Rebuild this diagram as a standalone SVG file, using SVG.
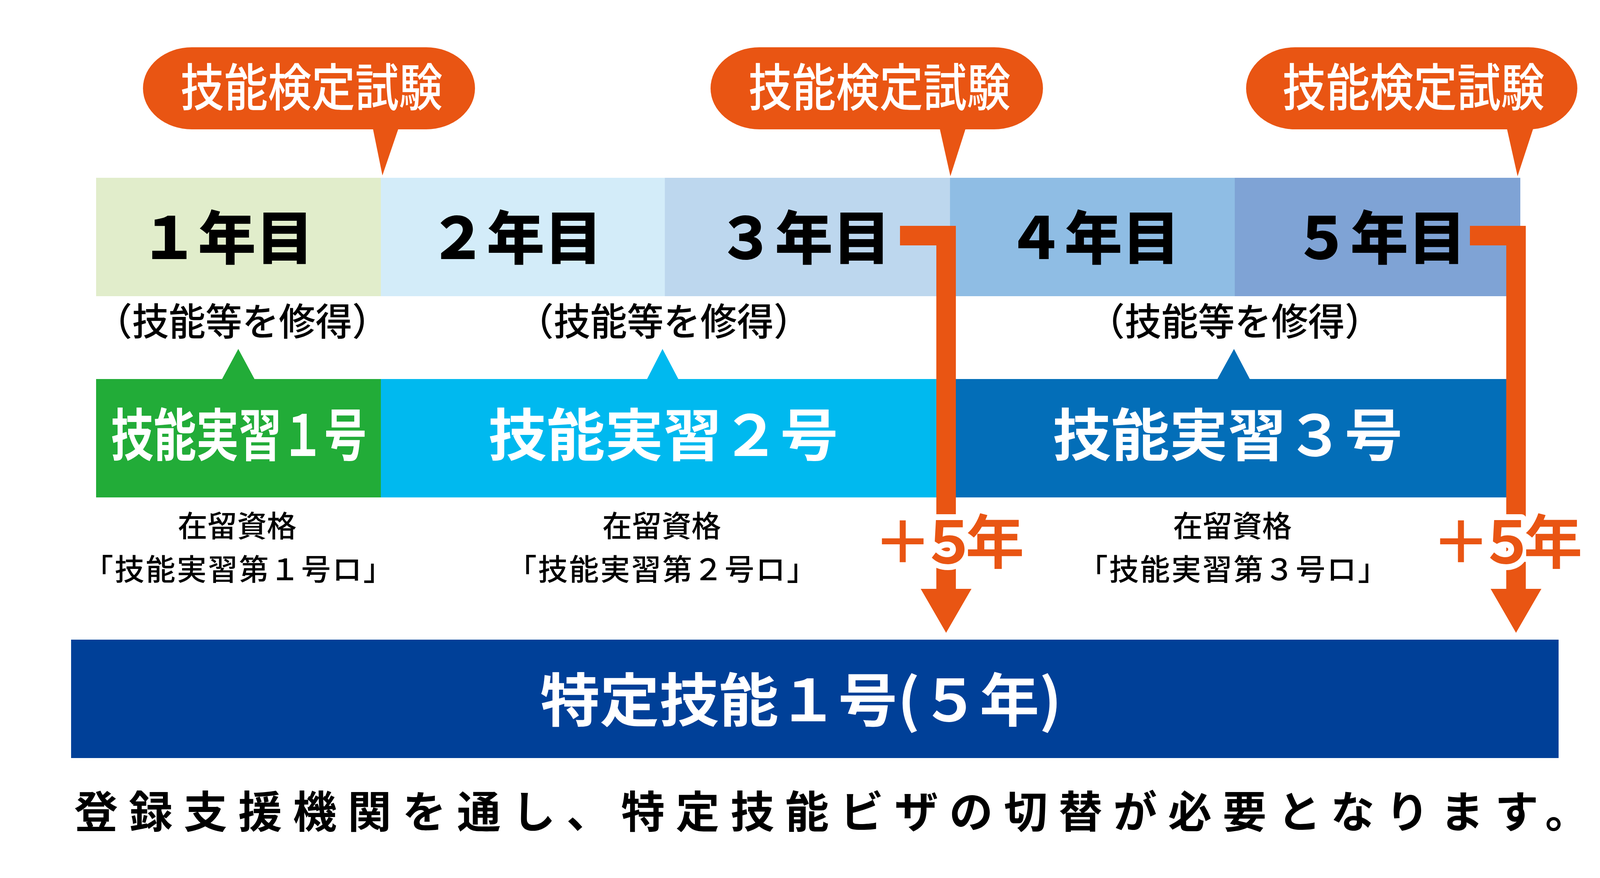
<svg xmlns="http://www.w3.org/2000/svg" width="4253" height="2247" viewBox="0 0 4253 2247">
<style>
text{font-family:"Noto Sans CJK JP","Noto Sans CJK SC",sans-serif}
.orange{fill:#E95513}
.bub{fill:#FFFFFF;font-size:130px;font-weight:500}
.year{fill:#000000;font-size:148px;font-weight:900}
.gain{fill:#000000;font-size:97px;font-weight:500}
.skill{fill:#FFFFFF;font-size:145px;font-weight:700}
.status{fill:#000000;font-size:76px;font-weight:500;text-anchor:middle}
.plus{fill:#E95513;font-size:150px;font-weight:700;stroke:#FFFFFF;stroke-width:30px;stroke-linejoin:round;paint-order:stroke;letter-spacing:-32px}
.conn{fill:none;stroke:#E95513;stroke-width:50;stroke-linejoin:miter;stroke-linecap:butt}
</style>
<defs>
<marker id="ah" markerUnits="userSpaceOnUse" markerWidth="130" markerHeight="130" refX="0" refY="63" orient="auto" viewBox="0 0 110 126" overflow="visible">
<path d="M0,0 L109,63 L0,126 Z" fill="#E95513"/>
</marker>
</defs>
<rect width="4253" height="2247" fill="#FFFFFF"/>

<g id="exam1">
<rect x="366" y="121" width="850" height="210" rx="125" ry="105" class="orange"/>
<polygon points="954,326 1021,326 979,449" class="orange"/>
<text x="462" y="271" class="bub" textLength="671" lengthAdjust="spacingAndGlyphs">技能検定試験</text>
</g>
<g id="exam2">
<rect x="1819" y="121" width="851" height="210" rx="125" ry="105" class="orange"/>
<polygon points="2405,326 2473,326 2433,451" class="orange"/>
<text x="1916" y="271" class="bub" textLength="671" lengthAdjust="spacingAndGlyphs">技能検定試験</text>
</g>
<g id="exam3">
<rect x="3190" y="121" width="848" height="210" rx="125" ry="105" class="orange"/>
<polygon points="3857,326 3926,326 3885,451" class="orange"/>
<text x="3283" y="271" class="bub" textLength="671" lengthAdjust="spacingAndGlyphs">技能検定試験</text>
</g>

<g id="year1">
<rect x="246" y="455" width="729" height="303" fill="#E1EDCB"/>
<text x="803" y="663" class="year" text-anchor="end">１年目</text>
</g>
<g id="year2">
<rect x="975" y="455" width="727" height="303" fill="#D3ECF9"/>
<text x="1542" y="663" class="year" text-anchor="end">２年目</text>
</g>
<g id="year3">
<rect x="1702" y="455" width="730" height="303" fill="#BDD7EE"/>
<text x="2280" y="663" class="year" text-anchor="end">３年目</text>
</g>
<g id="year4">
<rect x="2432" y="455" width="729" height="303" fill="#8FBDE4"/>
<text x="3021" y="663" class="year" text-anchor="end">４年目</text>
</g>
<g id="year5">
<rect x="3161" y="455" width="731" height="303" fill="#7FA3D5"/>
<text x="3753" y="663" class="year" text-anchor="end">５年目</text>
</g>

<g id="gain1">
<text x="620" y="858" class="gain" text-anchor="middle" textLength="751" lengthAdjust="spacingAndGlyphs">（技能等を修得）</text>
</g>
<g id="gain2">
<text x="1699" y="858" class="gain" text-anchor="middle" textLength="751" lengthAdjust="spacingAndGlyphs">（技能等を修得）</text>
</g>
<g id="gain3">
<text x="3161" y="858" class="gain" text-anchor="middle" textLength="751" lengthAdjust="spacingAndGlyphs">（技能等を修得）</text>
</g>

<g id="skill1">
<polygon points="568,971 652,971 610,893" fill="#22AC38"/>
<rect x="246" y="970" width="729" height="303" fill="#22AC38"/>
<text x="284" y="1167" class="skill" textLength="655" lengthAdjust="spacingAndGlyphs">技能実習１号</text>
</g>
<g id="skill2">
<polygon points="1656,971 1737,971 1696,893" fill="#00B9EF"/>
<rect x="975" y="970" width="1447" height="303" fill="#00B9EF"/>
<text x="1250" y="1167" class="skill" textLength="896" lengthAdjust="spacingAndGlyphs">技能実習２号</text>
</g>
<g id="skill3">
<polygon points="3116,971 3200,971 3159,893" fill="#036EB8"/>
<rect x="2422" y="970" width="1448" height="303" fill="#036EB8"/>
<text x="2695" y="1167" class="skill" textLength="896" lengthAdjust="spacingAndGlyphs">技能実習３号</text>
</g>

<g id="status1">
<text x="607" y="1374" class="status">在留資格</text>
<text x="610" y="1485" class="status" textLength="792" lengthAdjust="spacing">「技能実習第１号ロ」</text>
</g>
<g id="status2">
<text x="1694" y="1374" class="status">在留資格</text>
<text x="1694" y="1485" class="status" textLength="792" lengthAdjust="spacing">「技能実習第２号ロ」</text>
</g>
<g id="status3">
<text x="3155" y="1374" class="status">在留資格</text>
<text x="3156" y="1485" class="status" textLength="792" lengthAdjust="spacing">「技能実習第３号ロ」</text>
</g>

<g id="connectors">
<path d="M2304,603 H2422 V1507" class="conn" marker-end="url(#ah)"/>
<path d="M3763,603 H3881 V1507" class="conn" marker-end="url(#ah)"/>
</g>

<g id="plus1">
<text x="2236" y="1442" class="plus">＋５年</text>
</g>
<g id="plus2">
<text x="3665" y="1442" class="plus">＋５年</text>
</g>

<g id="specified">
<rect x="182" y="1637" width="3808" height="303" fill="#004098"/>
<text x="1383" y="1846" fill="#FFFFFF" font-size="148" font-weight="700" textLength="1335" lengthAdjust="spacingAndGlyphs">特定技能１号(５年)</text>
</g>

<g id="note">
<text x="190" y="2119" fill="#000000" font-size="112" font-weight="700" letter-spacing="28">登録支援機関を通し、特定技能ビザの切替が必要となります。</text>
</g>
</svg>
